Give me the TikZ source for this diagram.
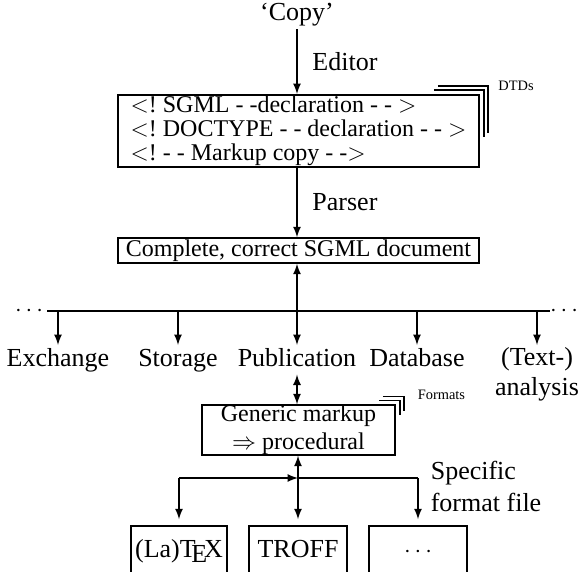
\documentclass[tikz,border=0pt]{standalone}
\usepackage{fontspec}
\setmainfont{Liberation Serif}
\usetikzlibrary{positioning}
\frenchspacing

\tikzset{
  box/.style={draw,thick,inner sep=0pt},
  boxtext/.style={font=\fontsize{12}{14}\selectfont},
  lbl/.style={inner sep=1pt},
  use/.style={lbl,anchor=north,text height=9.5pt,text depth=2.5pt},
  small/.style={font=\fontsize{7.2}{8}\selectfont,inner sep=0pt},
}

\begin{document}
\begin{tikzpicture}[x=0.5pt,y=0.5pt,>=latex,thick,font=\fontsize{13}{15}\selectfont]
  \clip (0,0) rectangle (578,-572);
  % input and parser
  \node[lbl] (copy) at (297,-15) {‘Copy’};
  \node[box,anchor=north,minimum width=180.5pt,minimum height=36pt,align=left,
        font=\fontsize{12}{11.8}\selectfont] (dtd) at (298.5,-94)
    {$<$! SGML - -declaration - - $>$\\
     $<$! DOCTYPE - - declaration - - $>$\\
     $<$! - - Markup copy - -$>$};
  \foreach \i in {1,2}
    \draw ([shift={(-50+4*\i,4*\i)}]dtd.north east) -| ([shift={(4*\i,-47+4*\i)}]dtd.north east);
  \node[small] (dtds) at (516,-86) {DTDs};
  \node[box,boxtext,minimum width=180.5pt,minimum height=12.5pt] (sgml) at (298.5,-250.5)
    {Complete, correct SGML document};
  \draw[->] (copy) -- (copy |- dtd.north) node[midway,right=4pt] {Editor};
  \draw[->] (dtd.south -| copy) -- (sgml.north -| copy) node[midway,right=4pt] {Parser};

  % applications
  \coordinate (bus) at (0,-311);
  \draw (47,-311) coordinate (busL) -- (550,-311) coordinate (busR);
  \node[lbl] (dotsL) at (29,-311) {$\cdots$};
  \node[lbl] (dotsR) at (564,-311) {$\cdots$};
  \foreach \x/\n/\t in {58/exch/Exchange, 178/stor/Storage, 297/publ/Publication, 417/dbase/Database}
    \node[use] (\n) at (\x,-345) {\t};
  \node[lbl,anchor=north,align=center] (anal) at (537,-345) {(Text-)\\analysis};
  \foreach \n in {exch,stor,dbase,anal}
    \draw[->] (\n.north |- bus) -- (\n.north);
  \draw[<->] (sgml.south -| publ) -- (publ.north);

  % formatting
  \node[box,boxtext,minimum width=96.5pt,minimum height=24pt,align=center] (gen) at (298.5,-430)
    {Generic markup\\$\Rightarrow$ procedural};
  \foreach \i in {1,2}
    \draw ([shift={(-21+4*\i,4*\i)}]gen.north east) -| ([shift={(4*\i,-15+4*\i)}]gen.north east);
  \node[small,anchor=west] (fmts) at (417,-395) {Formats};
  \draw[<->] (publ.south) -- (gen.north -| publ);
  \node[lbl,anchor=west,align=left,font=\fontsize{13}{16}\selectfont] (spec) at (428,-486)
    {Specific\\format file};

  \node[box,minimum width=48pt,minimum height=25pt,text height=9pt,text depth=3pt] (latex) at (179,-551) {(La)\TeX};
  \node[box,minimum width=49pt,minimum height=25pt,text height=9pt,text depth=3pt] (troff) at (298,-551) {TROFF};
  \node[box,minimum width=49pt,minimum height=25pt,text height=9pt,text depth=3pt] (other) at (418,-551) {$\cdots$};
  \coordinate (fork) at (298,-478);
  \draw[->] (latex.north |- fork) -- (fork);
  \draw (fork) -- (other.north |- fork);
  \draw[<->,shorten >=3pt] (gen.south -| troff) -- (troff.north);
  \draw[->,shorten >=3pt] (latex.north |- fork) -- (latex.north);
  \draw[->,shorten >=3pt] (other.north |- fork) -- (other.north);
\end{tikzpicture}
\end{document}
